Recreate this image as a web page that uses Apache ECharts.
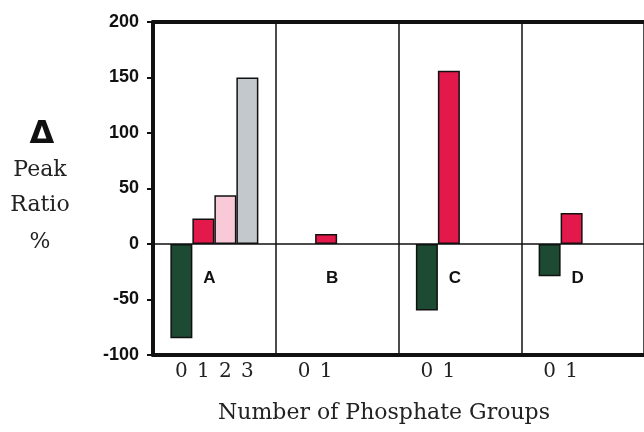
<!DOCTYPE html>
<html>
<head>
<meta charset="utf-8">
<script src="https://cdn.jsdelivr.net/npm/echarts@6/dist/echarts.min.js"></script>
<style>html,body{margin:0;padding:0;background:#fff}#c{width:644px;height:432px}</style>
</head>
<body>
<div id="c"></div>
<script>
var panels = ['A', 'B', 'C', 'D'];
var tickLabels = [['0', '1', '2', '3'], ['0', '1'], ['0', '1'], ['0', '1']];
var phosphate0 = [-85, null, -60, -29];
var phosphate1 = [23, 9, 156, 28];
var phosphate2 = [44, null, null, null];
var phosphate3 = [150, null, null, null];
var yTicks = [-100, -50, 0, 50, 100, 150, 200];
var panelLabelY = -31;

var colors = ['#1d4a33', '#e3194b', '#f8cad7', '#c2c8cb'];
var seriesData = [phosphate0, phosphate1, phosphate2, phosphate3];

var chart = echarts.init(document.getElementById('c'));
var barSeries = seriesData.map(function (d, i) {
  var s = {
    type: 'bar',
    name: String(i),
    data: d,
    barWidth: 22,
    barGap: '0%',
    itemStyle: { color: colors[i], borderColor: '#111', borderWidth: 1.5 },
    silent: true,
    animation: false
  };
  if (i === 0) {
    s.markLine = {
      silent: true, symbol: 'none', label: { show: false },
      lineStyle: { color: '#111', width: 1.5, type: 'solid' },
      data: [{ yAxis: 0 }]
    };
  }
  return s;
});
barSeries.push({
  type: 'scatter',
  data: panels.map(function (p) { return [p, panelLabelY]; }),
  symbolSize: 0,
  itemStyle: { opacity: 1 },
  label: {
    show: true, position: 'inside', offset: [-5, 0],
    formatter: function (p) { return panels[p.dataIndex]; },
    fontFamily: 'Liberation Sans, Arial', fontWeight: 'bold', fontSize: 17, color: '#111', opacity: 1
  },
  silent: true, animation: false
});

chart.setOption({
  animation: false,
  grid: { left: 153, right: 0, top: 22, bottom: 77, containLabel: false },
  xAxis: [{
    type: 'category',
    data: panels,
    position: 'bottom',
    axisLine: { onZero: false, lineStyle: { color: '#111', width: 4 } },
    axisTick: { show: false },
    splitLine: { show: true, interval: 0, lineStyle: { color: '#111', width: 1.5 } },
    axisLabel: {
      interval: 0, margin: 7,
      formatter: function (v, idx) {
        var t = tickLabels[idx];
        var s = '';
        for (var k = 0; k < 4; k++) s += '{d|' + (t[k] !== undefined ? t[k] : ' ') + '}';
        return s;
      },
      rich: { d: { width: 22, align: 'center', fontFamily: 'DejaVu Serif', fontSize: 20, color: '#222' } }
    }
  }, {
    type: 'category',
    data: panels,
    position: 'top',
    axisLine: { onZero: false, lineStyle: { color: '#111', width: 4 } },
    axisTick: { show: false },
    axisLabel: { show: false },
    splitLine: { show: false }
  }],
  yAxis: {
    type: 'value',
    min: -100, max: 200, interval: 50,
    axisLine: { show: true, lineStyle: { color: '#111', width: 4 } },
    axisTick: { show: true, length: 6, lineStyle: { color: '#111', width: 2 } },
    splitLine: { show: false },
    axisLabel: {
      margin: 14,
      formatter: function (v) { return yTicks.indexOf(v) >= 0 ? String(v) : ''; },
      fontFamily: 'Liberation Sans, Arial', fontWeight: 'bold', fontSize: 18, color: '#111'
    }
  },
  graphic: [
    { type: 'text', x: 42, y: 135, style: { text: 'Δ', fontFamily: 'DejaVu Sans', fontWeight: 'bold', fontSize: 32, fill: '#111', align: 'center', verticalAlign: 'middle' } },
    { type: 'text', x: 40, y: 170, style: { text: 'Peak', fontFamily: 'DejaVu Serif', fontSize: 22, fill: '#222', align: 'center', verticalAlign: 'middle' } },
    { type: 'text', x: 40, y: 205, style: { text: 'Ratio', fontFamily: 'DejaVu Serif', fontSize: 22, fill: '#222', align: 'center', verticalAlign: 'middle' } },
    { type: 'text', x: 40, y: 242, style: { text: '%', fontFamily: 'DejaVu Serif', fontSize: 22, fill: '#222', align: 'center', verticalAlign: 'middle' } },
    { type: 'text', x: 384, y: 413, style: { text: 'Number of Phosphate Groups', fontFamily: 'DejaVu Serif', fontSize: 22, fill: '#222', align: 'center', verticalAlign: 'middle' } }
  ],
  series: barSeries
});
</script>
</body>
</html>
